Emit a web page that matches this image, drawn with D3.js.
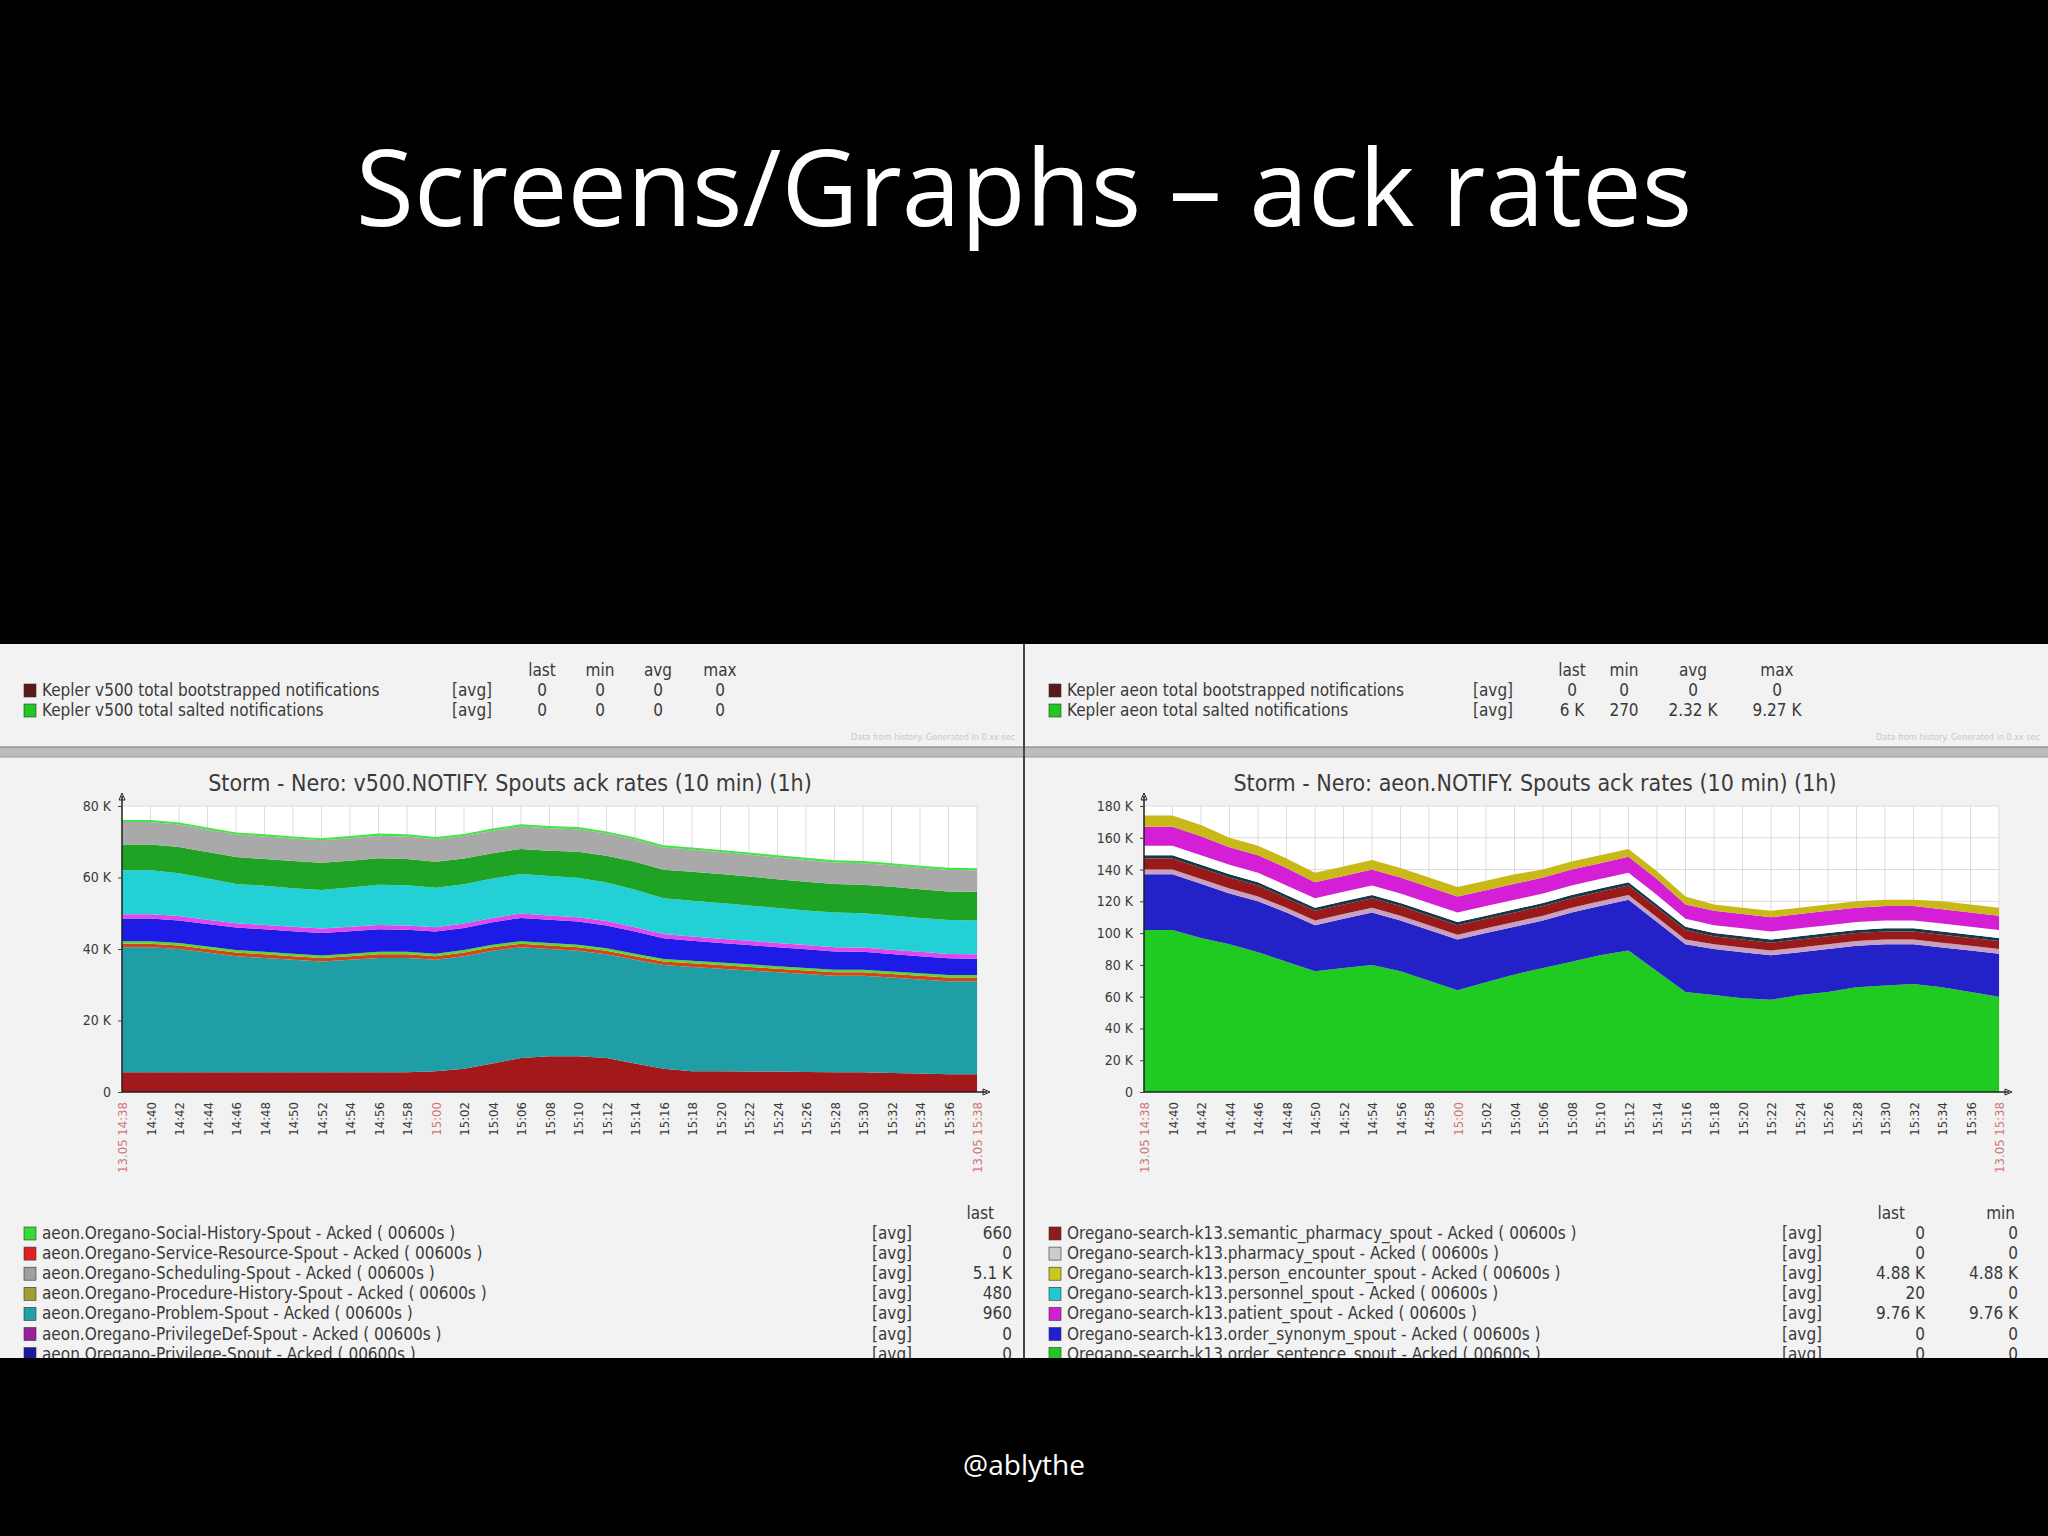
<!DOCTYPE html>
<html><head><meta charset="utf-8">
<script src="https://cdn.jsdelivr.net/npm/d3@7"></script>
<style>body{margin:0;background:#000;}svg{display:block;}</style>
</head><body>
<svg id="c" width="2048" height="1536"></svg>
<script>
// time axis: every 2 minutes, 14:38 .. 15:38
var times = ["14:38","14:40","14:42","14:44","14:46","14:48","14:50","14:52","14:54","14:56","14:58","15:00","15:02","15:04","15:06","15:08","15:10","15:12","15:14","15:16","15:18","15:20","15:22","15:24","15:26","15:28","15:30","15:32","15:34","15:36","15:38"];

// left chart (v500) stack layers, in K, bottom to top
var v500DarkRed = [5.5,5.5,5.5,5.5,5.5,5.5,5.5,5.5,5.5,5.5,5.5,5.8,6.5,8,9.5,10,10,9.5,8,6.5,5.8,5.8,5.7,5.7,5.6,5.5,5.5,5.3,5.2,5.0,5.0];
var v500Teal = [35,35,34.5,33.5,32.5,32,31.5,31,31.5,32,32,31.2,31.5,31.5,31,30,29.5,29,29,29,29.2,28.7,28.3,27.8,27.4,27,27,26.7,26.3,26,26];
var v500Orange = [1,1,1,1,1,1,1,1,1,1,1,1,1,1,1,1,1,1,1,1,1,1,1,1,1,1,1,1,1,1,1];
var v500Lime = [0.7,0.7,0.7,0.7,0.7,0.7,0.7,0.7,0.7,0.7,0.7,0.7,0.7,0.7,0.7,0.7,0.7,0.7,0.7,0.7,0.7,0.7,0.7,0.7,0.7,0.7,0.7,0.7,0.7,0.7,0.7];
var v500Blue = [6.3,6.3,6.3,6.3,6.3,6.3,6.3,6.3,6.3,6.3,6.2,6.2,6.2,6.3,6.5,6.5,6.5,6.4,6.2,5.8,5.6,5.5,5.4,5.3,5.2,5.1,5.0,4.9,4.8,4.7,4.6];
var v500Magenta = [1.2,1.2,1.2,1.2,1.2,1.2,1.2,1.2,1.2,1.2,1.2,1.2,1.2,1.2,1.2,1.2,1.2,1.2,1.2,1.2,1.2,1.2,1.2,1.2,1.2,1.2,1.2,1.2,1.2,1.2,1.2];
var v500Cyan = [12.3,12.3,12,11.5,11,11,10.8,10.8,11,11.3,11.2,11,11,11,11.1,11,11,10.8,10.5,10,10,10,9.9,9.8,9.7,9.7,9.6,9.6,9.5,9.5,9.5];
var v500Green = [7.2,7.2,7.3,7.4,7.5,7.5,7.6,7.6,7.5,7.4,7.4,7.3,7.2,7.1,7,7.1,7.3,7.5,7.8,8,8.1,8.1,8.1,8,8,8,8,8,8,8,8];
var v500Gray = [6.3,6.3,6.3,6.3,6.3,6.3,6.3,6.3,6.3,6.3,6.3,6.3,6.3,6.3,6.3,6.3,6.3,6.2,6.2,6.2,6.2,6.1,6.1,6.1,6.1,6,6,6,6,6,6];
var v500Top = [0.6,0.6,0.6,0.6,0.6,0.6,0.6,0.6,0.6,0.6,0.6,0.6,0.6,0.6,0.6,0.6,0.6,0.6,0.6,0.6,0.6,0.6,0.6,0.6,0.6,0.6,0.6,0.6,0.6,0.6,0.6];

// right chart (aeon) stack layers, in K, bottom to top
var aeonGreen = [102,102,97,93,88,82,76,78,80,76,70,64,69,74,78,82,86,89,76,63,61,59,58,61,63,66,67,68,66,63,60];
var aeonBlue = [35,35,34,32,32,31,29,31,33,32,32,32,31,30,30,31,31,32,31,30,29,29,28,27,27,26,26,25,25,26,27];
var aeonLavender = [3,3,3,3,3,3,3,3,3,3,3,3,3,3,3,3,3,3,3,3,3,3,3,3,3,3,3,3,3,3,3];
var aeonDarkRed = [7,7,7,7,7,6,6,6,6,6,6,6,6,6,6,6,6,6,6,6,5,5,5,5,5,5,5,5,5,5,5];
var aeonNavy = [2,2,2,2,2,2,2,2,2,2,2,2,2,2,2,2,2,2,2,2,2,2,2,2,2,2,2,2,2,2,2];
var aeonWhite = [6,6,6,6,6,6,6,6,6,6,6,6,6,6,6,6,6,6,6,5,5,5,5,5,5,5,5,5,5,5,5];
var aeonMagenta = [12,12,12,11,11,11,10,10,10,10,10,10,10,10,10,10,10,10,10,9,9,9,9,9,9,9,9,9,9,9,9];
var aeonYellow = [7,7,7,6,6,6,6,6,6,6,6,6,6,6,5,5,5,5,5,5,4,4,4,4,4,4,4,4,5,5,5];

var leftLayers = [v500DarkRed,v500Teal,v500Orange,v500Lime,v500Blue,v500Magenta,v500Cyan,v500Green,v500Gray,v500Top];
var leftColors = ["#a3181a","#1f9ea5","#d2461a","#5cd82a","#1c1ce6","#e048ee","#22d0d6","#1fa324","#a9a9a9","#44e444"];
var rightLayers = [aeonGreen,aeonBlue,aeonLavender,aeonDarkRed,aeonNavy,aeonWhite,aeonMagenta,aeonYellow];
var rightColors = ["#1fcb20","#2222c8","#c8a0c0","#9a1a1a","#173a48","#ffffff","#d41fd6","#c8b818"];

var leftLegend = ["aeon.Oregano-Social-History-Spout - Acked ( 00600s )","aeon.Oregano-Service-Resource-Spout - Acked ( 00600s )","aeon.Oregano-Scheduling-Spout - Acked ( 00600s )","aeon.Oregano-Procedure-History-Spout - Acked ( 00600s )","aeon.Oregano-Problem-Spout - Acked ( 00600s )","aeon.Oregano-PrivilegeDef-Spout - Acked ( 00600s )","aeon.Oregano-Privilege-Spout - Acked ( 00600s )"];
var leftLegendColors = ["#33dd33","#dd2222","#a0a0a0","#a0a030","#22a0a8","#9a209a","#1a1a9a"];
var leftLast = ["660","0","5.1 K","480","960","0","0"];
var rightLegend = ["Oregano-search-k13.semantic_pharmacy_spout - Acked ( 00600s )","Oregano-search-k13.pharmacy_spout - Acked ( 00600s )","Oregano-search-k13.person_encounter_spout - Acked ( 00600s )","Oregano-search-k13.personnel_spout - Acked ( 00600s )","Oregano-search-k13.patient_spout - Acked ( 00600s )","Oregano-search-k13.order_synonym_spout - Acked ( 00600s )","Oregano-search-k13.order_sentence_spout - Acked ( 00600s )"];
var rightLegendColors = ["#8e1c1c","#cccccc","#c8c820","#22c8cc","#d020d0","#2020d0","#22c822"];
var rightLast = ["0","0","4.88 K","20","9.76 K","0","0"];
var rightMin = ["0","0","4.88 K","0","9.76 K","0","0"];

var svg = d3.select("#c");
var FONT = "'DejaVu Sans Condensed','DejaVu Sans',sans-serif";
var TXT = "#3a3a3a";

svg.append("text").attr("x",1024).attr("y",226).attr("text-anchor","middle")
  .attr("fill","#fff").attr("font-family","'Open Sans',Calibri,sans-serif").attr("font-size",106)
  .text("Screens/Graphs \u2013 ack rates");
svg.append("text").attr("x",1024).attr("y",1475).attr("text-anchor","middle")
  .attr("fill","#fff").attr("font-family","'Open Sans',sans-serif").attr("font-size",28)
  .text("@ablythe");

var clip = svg.append("clipPath").attr("id","shot");
clip.append("rect").attr("x",0).attr("y",644).attr("width",2048).attr("height",714);
var shot = svg.append("g").attr("clip-path","url(#shot)");

function panel(x0, opts) {
  var g = shot.append("g").attr("transform","translate("+x0+",0)");
  g.append("rect").attr("x",0).attr("y",644).attr("width",1023).attr("height",714).attr("fill","#f2f2f2");
  g.append("rect").attr("x",0).attr("y",747).attr("width",1023).attr("height",10).attr("fill","#bdbdbd");
  g.append("line").attr("x1",0).attr("x2",1023).attr("y1",747).attr("y2",747).attr("stroke","#777");
  g.append("line").attr("x1",0).attr("x2",1023).attr("y1",757).attr("y2",757).attr("stroke","#999");

  // top strip legend
  var hx = opts.stripCols;
  ["last","min","avg","max"].forEach(function(h,i){
    g.append("text").attr("x",hx[i]).attr("y",676).attr("text-anchor","middle").attr("fill",TXT)
      .attr("font-family",FONT).attr("font-size",17).text(h);
  });
  opts.stripRows.forEach(function(r,i){
    var y = 696 + i*20;
    g.append("rect").attr("x",24).attr("y",y-12).attr("width",12).attr("height",13).attr("fill",r.c).attr("stroke","#333").attr("stroke-width",0.6);
    g.append("text").attr("x",42).attr("y",y).attr("fill",TXT).attr("font-family",FONT).attr("font-size",17).text(r.t);
    g.append("text").attr("x",opts.stripAvg).attr("y",y).attr("fill",TXT).attr("font-family",FONT).attr("font-size",17).text("[avg]");
    r.v.forEach(function(v,j){
      g.append("text").attr("x",hx[j]).attr("y",y).attr("text-anchor","middle").attr("fill",TXT)
        .attr("font-family",FONT).attr("font-size",17).text(v);
    });
  });
  g.append("text").attr("x",1015).attr("y",740).attr("text-anchor","end").attr("fill","#c8c8c8")
    .attr("font-family",FONT).attr("font-size",9).text("Data from history. Generated in 0.xx sec");

  // chart title
  g.append("text").attr("x",opts.titleX).attr("y",791).attr("text-anchor","middle").attr("fill",TXT)
    .attr("font-family",FONT).attr("font-size",23).text(opts.title);

  var left = opts.plotLeft, right = opts.plotLeft + 855, top = 806, bottom = 1092;
  var x = d3.scalePoint().domain(times).range([left,right]);
  var y = d3.scaleLinear().domain([0,opts.ymax]).range([bottom,top]);

  g.append("rect").attr("x",left).attr("y",top).attr("width",right-left).attr("height",bottom-top).attr("fill","#fff");
  g.append("g").selectAll("line").data(times).join("line")
    .attr("x1",d=>x(d)).attr("x2",d=>x(d)).attr("y1",top).attr("y2",bottom).attr("stroke","#dcdcdc");
  g.append("g").selectAll("line").data(opts.yticks).join("line")
    .attr("x1",left).attr("x2",right).attr("y1",d=>y(d)).attr("y2",d=>y(d)).attr("stroke","#dcdcdc");

  var rows = times.map(function(t,i){
    var o = {t:t}; opts.layers.forEach(function(L,k){ o["s"+k] = L[i]; }); return o;
  });
  var stack = d3.stack().keys(opts.layers.map((L,k)=>"s"+k))(rows);
  var area = d3.area().x(d=>x(d.data.t)).y0(d=>y(d[0])).y1(d=>y(d[1]));
  g.append("g").selectAll("path").data(stack).join("path")
    .attr("d",area).attr("fill",(d,i)=>opts.colors[i]);

  // axes
  g.append("line").attr("x1",left).attr("x2",right+10).attr("y1",bottom).attr("y2",bottom).attr("stroke","#222").attr("stroke-width",1.5);
  g.append("line").attr("x1",left).attr("x2",left).attr("y1",bottom).attr("y2",top-10).attr("stroke","#222").attr("stroke-width",1.5);
  g.append("path").attr("d","M"+(left-3)+","+(top-6)+"L"+left+","+(top-13)+"L"+(left+3)+","+(top-6)+"Z").attr("fill","none").attr("stroke","#222");
  g.append("path").attr("d","M"+(right+6)+","+(bottom-3)+"L"+(right+13)+","+bottom+"L"+(right+6)+","+(bottom+3)+"Z").attr("fill","none").attr("stroke","#222");

  var ya = d3.axisLeft(y).tickValues(opts.yticks).tickSize(4)
    .tickFormat(d=> d===0 ? "0" : d+" K");
  var yg = g.append("g").attr("transform","translate("+left+",0)").call(ya);
  yg.select(".domain").remove();
  yg.selectAll("text").attr("font-family",FONT).attr("font-size",14).attr("fill",TXT).attr("dx",-4);
  yg.selectAll("line").attr("stroke","#444");

  g.append("g").selectAll("text").data(times).join("text")
    .attr("transform",d=>"translate("+(x(d)+5)+","+(bottom+10)+") rotate(-90)")
    .attr("text-anchor","end").attr("font-family",FONT).attr("font-size",13)
    .attr("fill",(d,i)=> (i===0||i===times.length-1||d==="15:00") ? "#d07878" : TXT)
    .text((d,i)=> (i===0||i===times.length-1) ? "13.05 "+d : d);

  // bottom legend
  opts.legHead.forEach(function(h){
    g.append("text").attr("x",h.x).attr("y",1219).attr("text-anchor","end").attr("fill",TXT)
      .attr("font-family",FONT).attr("font-size",17).text(h.t);
  });
  opts.legend.forEach(function(t,i){
    var yy = 1239 + i*20.1;
    g.append("rect").attr("x",24).attr("y",yy-12).attr("width",12).attr("height",13).attr("fill",opts.legColors[i]).attr("stroke","#333").attr("stroke-width",0.6);
    g.append("text").attr("x",42).attr("y",yy).attr("fill",TXT).attr("font-family",FONT).attr("font-size",17).text(t);
    g.append("text").attr("x",opts.legAvg).attr("y",yy).attr("fill",TXT).attr("font-family",FONT).attr("font-size",17).text("[avg]");
    opts.legCols.forEach(function(c){
      g.append("text").attr("x",c.x).attr("y",yy).attr("text-anchor","end").attr("fill",TXT)
        .attr("font-family",FONT).attr("font-size",17).text(c.v[i]);
    });
  });
}

panel(0, {
  title:"Storm - Nero: v500.NOTIFY. Spouts ack rates (10 min) (1h)", titleX:510,
  stripCols:[542,600,658,720], stripAvg:452,
  stripRows:[{c:"#5a1818",t:"Kepler v500 total bootstrapped notifications",v:["0","0","0","0"]},
             {c:"#22c822",t:"Kepler v500 total salted notifications",v:["0","0","0","0"]}],
  plotLeft:122, ymax:80, yticks:[0,20,40,60,80],
  layers:leftLayers, colors:leftColors,
  legend:leftLegend, legColors:leftLegendColors, legAvg:872,
  legHead:[{x:994,t:"last"}],
  legCols:[{x:1012,v:leftLast}]
});
panel(1025, {
  title:"Storm - Nero: aeon.NOTIFY. Spouts ack rates (10 min) (1h)", titleX:510,
  stripCols:[547,599,668,752], stripAvg:448,
  stripRows:[{c:"#5a1818",t:"Kepler aeon total bootstrapped notifications",v:["0","0","0","0"]},
             {c:"#22c822",t:"Kepler aeon total salted notifications",v:["6 K","270","2.32 K","9.27 K"]}],
  plotLeft:119, ymax:180, yticks:[0,20,40,60,80,100,120,140,160,180],
  layers:rightLayers, colors:rightColors,
  legend:rightLegend, legColors:rightLegendColors, legAvg:757,
  legHead:[{x:880,t:"last"},{x:990,t:"min"}],
  legCols:[{x:900,v:rightLast},{x:993,v:rightMin}]
});
shot.append("rect").attr("x",1023).attr("y",644).attr("width",2).attr("height",714).attr("fill","#444");
</script>
</body></html>
